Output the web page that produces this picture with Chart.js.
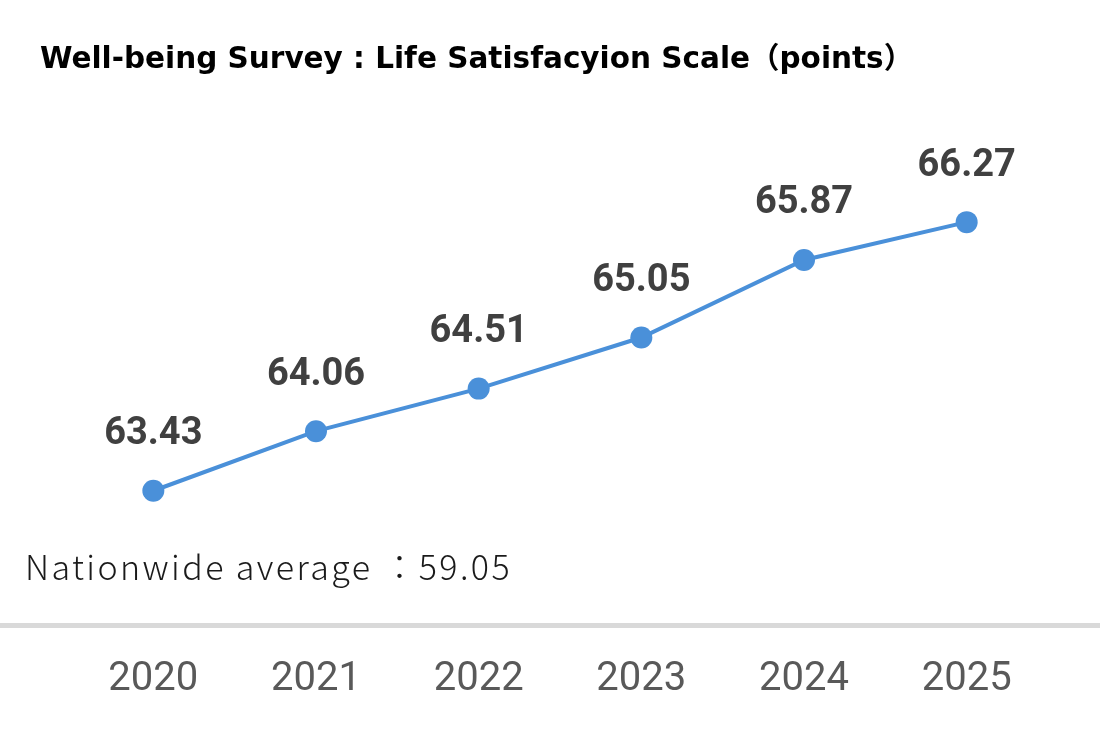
<!DOCTYPE html>
<html>
<head>
<meta charset="utf-8">
<script src="https://cdn.jsdelivr.net/npm/chart.js@4.4.1/dist/chart.umd.min.js"></script>
<style>
  html, body { margin: 0; padding: 0; background: #fff; }
  #wrap { width: 1100px; height: 734px; position: relative; }
</style>
</head>
<body>
<div id="wrap"><canvas id="chart" width="1100" height="734"></canvas></div>
<script>
/* global Chart */

// --- data ---
const years  = ['2020', '2021', '2022', '2023', '2024', '2025'];
const scores = [63.43, 64.06, 64.51, 65.05, 65.87, 66.27];
const titleText = 'Well-being Survey : Life Satisfacyion Scale（points）';
const nationalLabel = 'Nationwide average ：59.05';

// value labels above each point
const valueLabels = {
  id: 'valueLabels',
  afterDatasetsDraw(chart) {
    const { ctx } = chart;
    const meta = chart.getDatasetMeta(0);
    ctx.save();
    ctx.font = 'bold 38px Roboto, "Liberation Sans", sans-serif';
    ctx.fillStyle = '#404040';
    ctx.textAlign = 'center';
    ctx.textBaseline = 'middle';
    meta.data.forEach((pt, i) => {
      ctx.fillText(scores[i].toFixed(2), pt.x, pt.y - 56);
    });
    ctx.restore();
  },
};

// title, nationwide note, and the full-width base line
const decorations = {
  id: 'decorations',
  beforeDatasetsDraw(chart) {
    const { ctx, chartArea, width } = chart;
    ctx.save();
    ctx.fillStyle = '#d9d9d9';
    ctx.fillRect(0, chartArea.bottom - 3, width, 5);

    ctx.fillStyle = '#000';
    ctx.font = 'bold 29.5px "DejaVu Sans", "Noto Sans CJK JP", sans-serif';
    ctx.textAlign = 'left';
    ctx.textBaseline = 'middle';
    ctx.fillText(titleText, 40, 60);

    ctx.fillStyle = '#1a1a1a';
    ctx.font = '300 34px "Noto Sans CJK JP", "Noto Sans", sans-serif';
    ctx.letterSpacing = '2.4px';
    ctx.fillText(nationalLabel, 25, 567);
    ctx.restore();
  },
};

new Chart(document.getElementById('chart'), {
  type: 'line',
  data: {
    labels: years,
    datasets: [{
      data: scores,
      borderColor: '#4a90d9',
      backgroundColor: '#4a90d9',
      borderWidth: 4,
      pointRadius: 11,
      pointHoverRadius: 11,
      pointBorderWidth: 0,
      tension: 0,
      fill: false,
    }],
  },
  options: {
    responsive: false,
    animation: false,
    layout: { padding: { top: 120, left: 72, right: 52, bottom: 0 } },
    plugins: { legend: { display: false }, tooltip: { enabled: false } },
    scales: {
      x: {
        offset: true,
        grid: { display: false, drawTicks: false },
        border: { display: false },
        ticks: {
          padding: 30,
          color: '#595959',
          font: { size: 40, family: 'Roboto, "Liberation Sans", sans-serif' },
        },
      },
      y: {
        display: false,
        min: 62,
        max: 67.35,
      },
    },
  },
  plugins: [valueLabels, decorations],
});
</script>
</body>
</html>
